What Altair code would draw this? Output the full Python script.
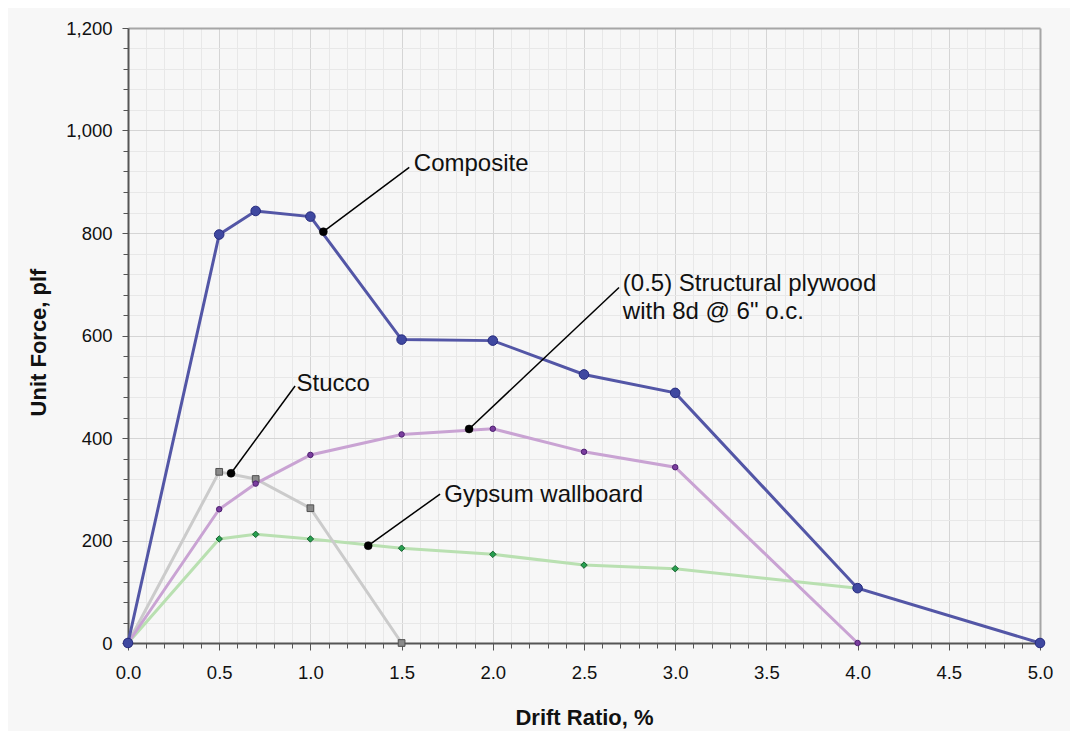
import altair as alt
import pandas as pd

# ---- data ----
comp_x = [0.0, 0.5, 0.7, 1.0, 1.5, 2.0, 2.5, 3.0, 4.0, 5.0]
comp_y = [0, 797, 843, 832, 592, 590, 524, 488, 107, 0]

ply_x = [0.0, 0.5, 0.7, 1.0, 1.5, 2.0, 2.5, 3.0, 4.0]
ply_y = [0, 261, 311, 367, 407, 418, 373, 343, 0]

stu_x = [0.0, 0.5, 0.7, 1.0, 1.5]
stu_y = [0, 334, 320, 263, 0]

gyp_x = [0.0, 0.5, 0.7, 1.0, 1.5, 2.0, 2.5, 3.0, 4.0]
gyp_y = [0, 203, 212, 203, 185, 173, 152, 145, 107]

# annotations (data coordinates)
lab_text = ["Composite", "(0.5) Structural plywood", "with 8d @ 6\" o.c.", "Stucco", "Gypsum wallboard"]
lab_x = [1.567, 2.713, 2.713, 0.924, 1.734]
lab_y = [921.6, 687.4, 631.6, 492.3, 275.0]

dot_x = [1.071, 1.870, 0.565, 1.317]
dot_y = [802.5, 417.6, 331.1, 189.9]
end_x = [1.542, 2.692, 0.916, 1.711]
end_y = [928.2, 693.7, 501.5, 290.7]

# tick values
x_major = [0.0, 0.5, 1.0, 1.5, 2.0, 2.5, 3.0, 3.5, 4.0, 4.5, 5.0]
x_all = [round(i * 0.1, 1) for i in range(51)]
x_minor = [v for v in x_all if round(v * 10) % 5 != 0]
x_grid = [v for v in x_major if 0 < v < 5]
y_major = [0, 200, 400, 600, 800, 1000, 1200]
y_all = list(range(0, 1201, 40))
y_minor = [v for v in y_all if v % 200 != 0]
y_grid = [v for v in y_major if 0 < v < 1200]

FONT = "Liberation Sans"
AX = "#555555"

df_comp = pd.DataFrame({"x": comp_x, "y": comp_y})
df_ply = pd.DataFrame({"x": ply_x, "y": ply_y})
df_stu = pd.DataFrame({"x": stu_x, "y": stu_y})
df_gyp = pd.DataFrame({"x": gyp_x, "y": gyp_y})
df_lab = pd.DataFrame({"x": lab_x, "y": lab_y, "t": lab_text})
df_lead = pd.DataFrame({"x": dot_x, "y": dot_y, "x2": end_x, "y2": end_y})

xs = alt.Scale(domain=[0, 5], nice=False, zero=False)
ys = alt.Scale(domain=[0, 1200], nice=False, zero=False)

ax_x_minor = alt.Axis(orient="bottom", values=x_minor, grid=True, gridColor="#e8e8e8", gridWidth=1,
                      labels=False, ticks=True, tickSize=5, tickColor=AX, tickWidth=1, domain=False, title="")
ax_y_minor = alt.Axis(orient="left", values=y_minor, grid=True, gridColor="#e8e8e8", gridWidth=1,
                      labels=False, ticks=True, tickSize=5, tickColor=AX, tickWidth=1, domain=False, title="")
ax_x_grid = alt.Axis(orient="bottom", values=x_grid, grid=True, gridColor="#d5d5d5", gridWidth=1,
                     labels=False, ticks=False, domain=False, title="")
ax_y_grid = alt.Axis(orient="left", values=y_grid, grid=True, gridColor="#d5d5d5", gridWidth=1,
                     labels=False, ticks=False, domain=False, title="")
ax_x_main = alt.Axis(orient="bottom", values=x_major, format=".1f", grid=False,
                     ticks=True, tickSize=7, tickColor=AX, tickWidth=1,
                     domain=True, domainColor=AX, domainWidth=2,
                     labelFont=FONT, labelFontSize=18.5, labelColor="#111111", labelPadding=13,
                     labelFlush=False, labelOverlap=False,
                     title="Drift Ratio, %", titleFont=FONT, titleFontSize=22, titleFontWeight="bold",
                     titleColor="#111111", titleX=456, titleY=81, titleAlign="center",
                     titleBaseline="alphabetic", titleAnchor="middle")
ax_y_main = alt.Axis(orient="left", values=y_major, format=",d", grid=False,
                     ticks=True, tickSize=6, tickColor=AX, tickWidth=1,
                     domain=True, domainColor=AX, domainWidth=2,
                     labelFont=FONT, labelFontSize=18.5, labelColor="#111111", labelPadding=10,
                     labelFlush=False, labelOverlap=False,
                     title="Unit Force, plf", titleFont=FONT, titleFontSize=22, titleFontWeight="bold",
                     titleColor="#111111", titleAngle=270, titleX=-83, titleY=314, titleAlign="center",
                     titleBaseline="alphabetic")
ax_x_top = alt.Axis(orient="top", labels=False, ticks=False, grid=False, domain=True,
                    domainColor="#a6a6a6", domainWidth=2, title="")
ax_y_right = alt.Axis(orient="right", labels=False, ticks=False, grid=False, domain=True,
                      domainColor="#a6a6a6", domainWidth=2, title="")


def line(df, color, xa, ya):
    return alt.Chart(df).mark_line(color=color, strokeWidth=3).encode(
        x=alt.X("x:Q", scale=xs, axis=xa),
        y=alt.Y("y:Q", scale=ys, axis=ya),
    )


def pts(df, shape, size, fill, stroke):
    return alt.Chart(df).mark_point(shape=shape, size=size, filled=True, fill=fill, stroke=stroke,
                                    strokeWidth=1, opacity=1).encode(
        x=alt.X("x:Q", scale=xs, axis=None),
        y=alt.Y("y:Q", scale=ys, axis=None),
    )


gyp_line = line(df_gyp, "#b9e0b1", ax_x_minor, ax_y_minor)
stu_line = line(df_stu, "#cbcbcb", ax_x_grid, ax_y_grid)
ply_line = line(df_ply, "#c9a3d3", ax_x_main, ax_y_main)
comp_line = line(df_comp, "#5356a6", ax_x_top, ax_y_right)

gyp_pts = pts(df_gyp, "diamond", 42, "#27a050", "#17602f")
stu_pts = pts(df_stu, "square", 45, "#8a8a8a", "#505050")
ply_pts = pts(df_ply, "circle", 30, "#7a3d9e", "#4d1f70")
comp_pts = pts(df_comp, "circle", 92, "#3f48a0", "#262b7e")

leaders = alt.Chart(df_lead).mark_rule(color="#000000", strokeWidth=1.5).encode(
    x=alt.X("x:Q", scale=xs, axis=None),
    y=alt.Y("y:Q", scale=ys, axis=None),
    x2="x2:Q",
    y2="y2:Q",
)
lead_dots = alt.Chart(df_lead).mark_point(shape="circle", size=64, filled=True, fill="#000000",
                                          stroke="#000000", strokeWidth=0.5, opacity=1).encode(
    x=alt.X("x:Q", scale=xs, axis=None),
    y=alt.Y("y:Q", scale=ys, axis=None),
)
labels = alt.Chart(df_lab).mark_text(align="left", baseline="alphabetic", font=FONT, fontSize=24,
                                     color="#111111").encode(
    x=alt.X("x:Q", scale=xs, axis=None),
    y=alt.Y("y:Q", scale=ys, axis=None),
    text="t:N",
)

chart = alt.layer(
    gyp_line, stu_line, ply_line, comp_line,
    gyp_pts, stu_pts, ply_pts, comp_pts,
    leaders, lead_dots, labels,
).resolve_axis(x="independent", y="independent").properties(
    width=912,
    height=615,
    padding={"left": 120, "top": 20, "right": 30, "bottom": 88},
    autosize=alt.AutoSizeParams(type="none"),
    background="#f7f7f7",
).configure_view(strokeWidth=0)

chart.save("out.html", embed_options={"renderer": "svg", "actions": False})
